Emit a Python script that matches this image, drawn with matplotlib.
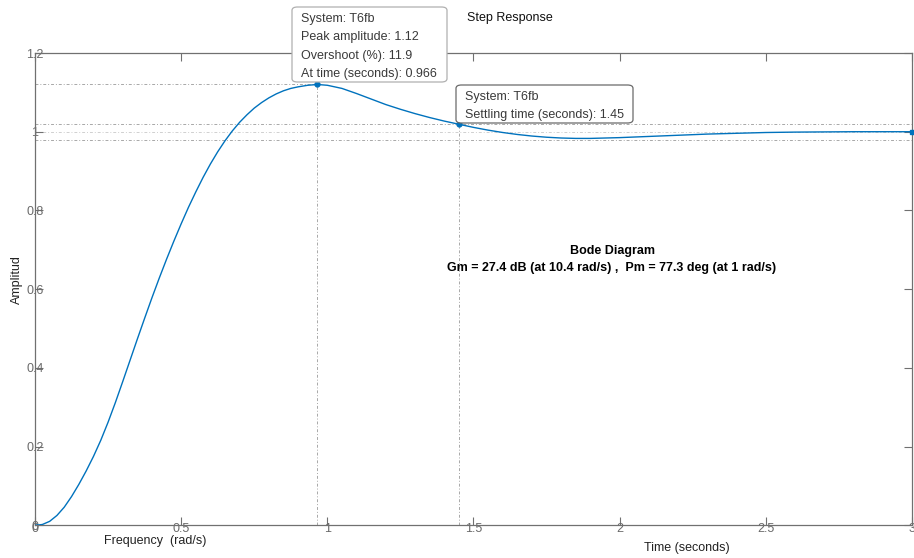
import matplotlib
matplotlib.use("Agg")
import matplotlib.pyplot as plt
from matplotlib.patches import FancyBboxPatch

plt.rcParams['font.family'] = ['Liberation Sans', 'DejaVu Sans']

# step response of T6fb
time_s = [0, 0.025, 0.05, 0.075, 0.1, 0.125, 0.15, 0.175, 0.2, 0.225, 0.25,
          0.275, 0.3, 0.325, 0.35, 0.375, 0.4, 0.425, 0.45, 0.475, 0.5, 0.525,
          0.55, 0.575, 0.6, 0.625, 0.65, 0.675, 0.7, 0.725, 0.75, 0.775, 0.8,
          0.825, 0.85, 0.875, 0.9, 0.933, 0.966, 1.0, 1.05, 1.1, 1.15, 1.2,
          1.25, 1.3, 1.35, 1.4, 1.45, 1.5, 1.55, 1.6, 1.65, 1.7, 1.75, 1.8,
          1.85, 1.9, 1.95, 2.0, 2.1, 2.2, 2.3, 2.4, 2.5, 2.6, 2.8, 3.0]
amplitude = [0, 0.002, 0.010, 0.025, 0.046, 0.073, 0.104, 0.138, 0.175, 0.216,
             0.262, 0.312, 0.365, 0.419, 0.473, 0.526, 0.578, 0.628, 0.676,
             0.722, 0.766, 0.808, 0.847, 0.884, 0.918, 0.949, 0.977, 1.002,
             1.024, 1.043, 1.060, 1.074, 1.086, 1.096, 1.104, 1.110, 1.114,
             1.118, 1.12, 1.118, 1.110, 1.097, 1.083, 1.069, 1.057, 1.046,
             1.036, 1.027, 1.019, 1.011, 1.004, 0.998, 0.993, 0.989, 0.986,
             0.984, 0.983, 0.983, 0.984, 0.985, 0.988, 0.991, 0.994, 0.996,
             0.998, 0.999, 1.0, 1.0]

peak_time, peak_amp = 0.966, 1.12
settle_time, settle_amp = 1.45, 1.02
final_value = 1.0
settle_band = [0.98, 1.02]

xticks = [0, 0.5, 1, 1.5, 2, 2.5, 3]
xtick_labels = ["0", "0.5", "1", "1.5", "2", "2.5", "3"]
yticks = [0, 0.2, 0.4, 0.6, 0.8, 1.0, 1.2]
ytick_labels = ["0", "0.2", "0.4", "0.6", "0.8", "1", "1.2"]

peak_tip = ["System: T6fb", "Peak amplitude: 1.12", "Overshoot (%): 11.9",
            "At time (seconds): 0.966"]
settle_tip = ["System: T6fb", "Settling time (seconds): 1.45"]

W, H = 914, 558


def fx(x):
    return x / W


def fy(y):
    return 1 - y / H


fig = plt.figure(figsize=(W / 100, H / 100), dpi=100)
ax = fig.add_axes([fx(35), fy(525.3), (912 - 35) / W, (525.3 - 53) / H])

grey = '#a8a8a8'
dash = (0, (3, 2, 1, 2))
# characteristic lines
ax.axhline(final_value, color='#d0d0d0', lw=0.7, ls=dash, zorder=1)
for b in settle_band:
    ax.axhline(b, color=grey, lw=0.7, ls=dash, zorder=1)
ax.plot([0, peak_time], [peak_amp, peak_amp], color=grey, lw=0.7, ls=dash, zorder=1)
ax.plot([peak_time, peak_time], [0, peak_amp], color=grey, lw=0.7, ls=dash, zorder=1)
ax.plot([settle_time, settle_time], [0, settle_amp], color=grey, lw=0.7, ls=dash, zorder=1)

ax.plot(time_s, amplitude, color='#0072BD', lw=1.0, zorder=3)
ax.plot([peak_time, settle_time], [peak_amp, settle_amp], 'o', color='#0072BD',
        ms=3.5, zorder=4, clip_on=False)
ax.plot([time_s[-1]], [amplitude[-1]], 's', color='#0072BD', ms=3.5, zorder=4,
        clip_on=False)

ax.set_xlim(0, 3)
ax.set_ylim(0, 1.2)
ax.set_xticks(xticks)
ax.set_xticklabels(xtick_labels)
ax.set_yticks(yticks)
ax.set_yticklabels(ytick_labels)
ax.tick_params(direction='in', length=6, width=0.8, colors='#707070',
               labelcolor='#6a6a6a', labelsize=9, top=True, right=True)
ax.tick_params(axis='x', pad=-2)
ax.tick_params(axis='y', pad=0)
for lab in ax.get_yticklabels():
    lab.set_horizontalalignment('center')
for s in ax.spines.values():
    s.set_color('#707070')
    s.set_linewidth(0.9)

# labels
fig.text(fx(155), fy(541), "Frequency  (rad/s)", ha='center', va='center',
         fontsize=9, color='#222222')
fig.text(fx(687), fy(548), "Time (seconds)", ha='center', va='center',
         fontsize=9, color='#222222')
fig.text(fx(17), fy(280), "Amplitud", ha='center', va='center', rotation=90,
         fontsize=9, color='#222222')
fig.text(fx(510), fy(18), "Step Response", ha='center', va='center',
         fontsize=9, color='#111111')
fig.text(fx(612), fy(251), "Bode Diagram", ha='center', va='center',
         fontsize=9, fontweight='bold', color='#000000')
fig.text(fx(612), fy(268), "Gm = 27.4 dB (at 10.4 rad/s) ,  Pm = 77.3 deg (at 1 rad/s)",
         ha='center', va='center', fontsize=9, fontweight='bold', color='#000000')


def datatip(left, top, right, bottom, lines, edge):
    box = FancyBboxPatch((fx(left), fy(bottom)), fx(right - left), (bottom - top) / H,
                         boxstyle="round,pad=0,rounding_size=0.006",
                         transform=fig.transFigure, facecolor='white',
                         edgecolor=edge, lw=0.9, zorder=10)
    fig.patches.append(box)
    for i, txt in enumerate(lines):
        fig.text(fx(left + 9), fy(top + 12 + i * 18.3), txt, ha='left', va='center',
                 fontsize=9, color='#3a3a3a', zorder=11)


datatip(292, 7, 447, 82, peak_tip, '#b0b0b0')
datatip(456, 85, 633, 123, settle_tip, '#6a6a6a')

fig.savefig("out.png", dpi=100)
